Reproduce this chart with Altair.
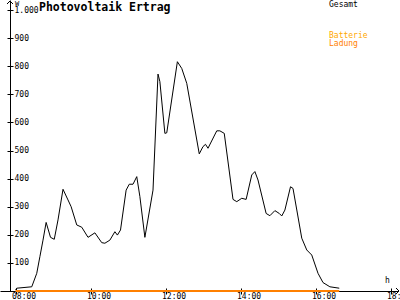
import altair as alt
import pandas as pd

# ---- data (minutes since midnight, watts) ----
minutes = [480, 482, 506, 514, 519, 524, 529, 536, 542, 548, 556, 564, 569, 578, 586,
           596, 607, 618, 623, 631, 639, 643, 648, 657, 662, 668, 674, 679, 687, 700,
           708, 711, 719, 722, 739, 746, 754, 774, 780, 784, 788, 802, 807, 814, 828,
           834, 842, 849, 858, 863, 868, 881, 887, 895, 902, 906, 911, 920, 924, 938,
           946, 954, 964, 972, 983, 998]
watts = [5, 10, 15, 63, 122, 181, 244, 191, 184, 253, 362, 324, 300, 235, 227,
         191, 207, 172, 170, 181, 211, 199, 217, 359, 380, 380, 407, 336, 191, 359,
         772, 745, 561, 563, 816, 792, 739, 488, 514, 522, 508, 570, 570, 561, 326,
         318, 330, 326, 413, 425, 395, 276, 268, 286, 276, 267, 288, 371, 365, 188,
         146, 128, 63, 30, 15, 10]
batt_minutes = [480, 998]
batt_watts = [0, 0]

x_ticks = [480, 600, 720, 840, 960, 1080]
y_ticks = [100, 200, 300, 400, 500, 600, 700, 800, 900, 1000]

title_text = "Photovoltaik Ertrag"
legend_labels = ["Gesamt", "Batterie", "Ladung"]
legend_colors = ["#000000", "#FFA800", "#FF8000"]
unit_y = "W"
unit_x = "h"

W, H = 398, 291
FONT = "DejaVu Sans Mono"

df = pd.DataFrame({"m": minutes, "w": watts})
bdf = pd.DataFrame({"m": batt_minutes, "w": batt_watts})

xs = alt.Scale(domain=[455.2, 1092], nice=False, zero=False)
ys = alt.Scale(domain=[0, 1035.6], nice=False, zero=False)

x_label_expr = "(floor(datum.value/60) < 10 ? '0' : '') + floor(datum.value/60) + ':00'"
y_label_expr = "datum.value == 1000 ? '1.000' : '' + datum.value"

main = alt.Chart(df).mark_line(color="black", strokeWidth=1).encode(
    x=alt.X("m:Q", scale=xs, axis=alt.Axis(
        values=x_ticks, labelExpr=x_label_expr, orient="bottom", tickSize=3,
        labelAlign="left", labelOffset=-4, labelBaseline="top", labelPadding=-2,
        labelFont=FONT, labelFontSize=8, labelColor="black", domainColor="black",
        tickColor="black", title=None, grid=False, labelFlush=False,
        labelOverlap=False, labelBound=False)),
    y=alt.Y("w:Q", scale=ys, axis=alt.Axis(
        values=y_ticks, labelExpr=y_label_expr, orient="left", offset=-10, tickSize=3,
        labelAlign="left", labelPadding=-7, labelBaseline="middle",
        labelFont=FONT, labelFontSize=8, labelColor="black", domainColor="black",
        tickColor="black", title=None, grid=False, labelFlush=False,
        labelOverlap=False, labelBound=False)),
)

batt = alt.Chart(bdf).mark_line(color="#FF8000", strokeWidth=2).encode(
    x=alt.X("m:Q", scale=xs, axis=alt.Axis(
        values=x_ticks, orient="top", offset=-H, labels=False, domain=False,
        tickSize=3, tickColor="black", title=None, grid=False)),
    y=alt.Y("w:Q", scale=ys, axis=alt.Axis(
        values=y_ticks, orient="right", offset=-(W - 10), labels=False, domain=False,
        tickSize=3, tickColor="black", title=None, grid=False)),
)

title = alt.Chart(pd.DataFrame({"t": [title_text]})).mark_text(
    font=FONT, fontSize=11.5, fontWeight="bold", align="left", baseline="alphabetic",
    color="black").encode(x=alt.value(39), y=alt.value(11), text="t:N")

leg_df = pd.DataFrame({"t": legend_labels, "c": legend_colors, "y": [4.5, 35.5, 43.5]})
legend = alt.Chart(leg_df).mark_text(
    font=FONT, fontSize=8, align="left", baseline="middle").encode(
    x=alt.value(329), y=alt.Y("y:Q", scale=None), text="t:N",
    color=alt.Color("c:N", scale=None))

uy = alt.Chart(pd.DataFrame({"t": [unit_y]})).mark_text(
    font=FONT, fontSize=7, align="left", baseline="middle", color="black").encode(
    x=alt.value(15), y=alt.value(4), text="t:N")
ux = alt.Chart(pd.DataFrame({"t": [unit_x]})).mark_text(
    font=FONT, fontSize=8, align="left", baseline="middle", color="black").encode(
    x=alt.value(385), y=alt.value(281), text="t:N")

arrow_up = alt.Chart(pd.DataFrame({"a": [0]})).mark_point(
    shape="M-1,1L0,0L1,1", size=36, filled=False, color="black", strokeWidth=1,
    opacity=1).encode(x=alt.value(10), y=alt.value(1))
arrow_right = alt.Chart(pd.DataFrame({"a": [0]})).mark_point(
    shape="M-1,-1L0,0L-1,1", size=36, filled=False, color="black", strokeWidth=1,
    opacity=1).encode(x=alt.value(399), y=alt.value(H))

chart = alt.layer(main, batt, title, legend, uy, ux, arrow_up, arrow_right).resolve_axis(
    x="independent", y="independent").properties(
    width=W, height=H, padding={"left": 0, "top": 0, "right": 2, "bottom": 9},
    autosize=alt.AutoSizeParams(type="none"), background="white"
).configure_view(stroke=None)

chart.save("out.html", embed_options={"renderer": "svg", "actions": False})
